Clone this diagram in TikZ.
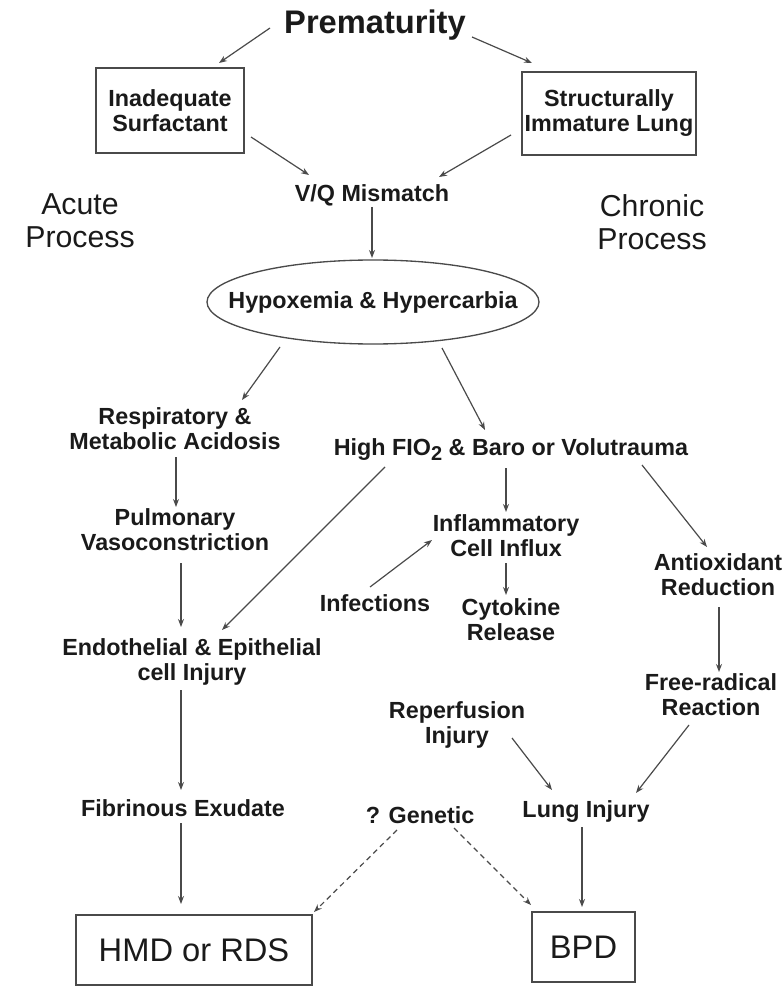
\documentclass[tikz,border=0pt]{standalone}
\usepackage{fontspec}
\setmainfont{Liberation Sans}
\usetikzlibrary{arrows.meta,calc}
\definecolor{flowline}{HTML}{4A4A4A}
\definecolor{flowtext}{HTML}{1A1A1A}

\begin{document}
\begin{tikzpicture}[x=0.75pt,y=-0.75pt,
  lbl/.style={text=flowtext,align=center,inner sep=1pt,font=\bfseries\fontsize{17.5}{18.75}\selectfont},
  bigl/.style={text=flowtext,align=center,inner sep=1pt,font=\fontsize{22.7}{24.75}\selectfont},
  boxl/.style={lbl,draw=flowline,line width=1pt},
  outbox/.style={draw=flowline,line width=1pt,text=flowtext,font=\fontsize{24.5}{26}\selectfont,minimum height=52.5pt},
  arr/.style={draw=flowline,line width=0.9pt,-{Stealth[length=6pt,width=4.5pt]}},
  darr/.style={arr,dash pattern=on 4pt off 3pt}]
\useasboundingbox (0,0) rectangle (782,987);
% top of the chart
\node[lbl,font=\bfseries\fontsize{24.5}{26}\selectfont] (prem) at (375,25) {Prematurity};
\node[boxl,minimum width=111pt,minimum height=63.75pt] (inad) at (170,110.5) {Inadequate\\Surfactant};
\node[boxl,minimum width=130.5pt,minimum height=62.25pt] (struct) at (609,113.5) {Structurally\\Immature Lung};
\node[lbl] (vq) at (372,195) {V/Q Mismatch};
\node[bigl] (acute) at (80,221) {Acute\\Process};
\node[bigl] (chronic) at (652,222) {Chronic\\Process};
\node[lbl] (hyp) at (373,302) {Hypoxemia \& Hypercarbia};
\draw[flowline,line width=1pt] (hyp) ellipse [x radius=124.5pt,y radius=31.5pt];
% middle
\node[lbl] (resp) at (175,429) {Respiratory \&\\Metabolic Acidosis};
\node[lbl] (high) at (511,450) {High FIO\raisebox{-0.35ex}{\fontsize{15}{15}\selectfont 2} \& Baro or Volutrauma};
\node[lbl] (pulm) at (175,530) {Pulmonary\\Vasoconstriction};
\node[lbl] (infl) at (506,536) {Inflammatory\\Cell Influx};
\node[lbl] (anti) at (718,575) {Antioxidant\\Reduction};
\node[lbl] (inf) at (375,603) {Infections};
\node[lbl] (cyto) at (511,620) {Cytokine\\Release};
\node[lbl] (endo) at (192,662) {Endothelial \& Epithelial\\cell Injury};
\node[lbl] (free) at (711,695) {Free-radical\\Reaction};
\node[lbl] (rep) at (457,725) {Reperfusion\\Injury};
% bottom
\node[lbl] (fib) at (183,808) {Fibrinous Exudate};
\node[lbl] (gen) at (420,815) {? Genetic};
\node[lbl] (lung) at (586,812) {Lung Injury};
\node[outbox,minimum width=177pt] (hmd) at (194,950) {HMD or RDS};
\node[outbox,minimum width=77.25pt] (bpd) at (583.5,947) {BPD};
% arrows
\draw[arr] ($(prem)+(-105,3)$) -- ($(inad)+(49,-47.5)$);
\draw[arr] ($(prem)+(97,12)$) -- ($(struct)+(-77,-50.5)$);
\draw[arr] ($(inad)+(81,26.5)$) -- ($(vq)+(-63,-20)$);
\draw[arr] ($(struct)+(-98,21.5)$) -- ($(vq)+(67,-18)$);
\draw[arr] ($(vq)+(0,12)$) -- ($(hyp)+(-1,-44)$);
\draw[arr] ($(hyp)+(-93,45)$) -- ($(resp)+(67,-29)$);
\draw[arr] ($(hyp)+(69,46)$) -- ($(high)+(-26,-20)$);
\draw[arr] ($(resp)+(1,28)$) -- ($(pulm)+(1,-23)$);
\draw[arr] ($(pulm)+(6,33)$) -- ($(endo)+(-11,-35)$);
\draw[arr] ($(high)+(-126,17)$) -- ($(endo)+(30,-32)$);
\draw[arr] ($(high)+(-5,18)$) -- ($(infl)+(0,-24)$);
\draw[arr] ($(high)+(131,15)$) -- ($(anti)+(-11,-28)$);
\draw[arr] ($(inf)+(-5,-16)$) -- ($(infl)+(-74,4)$);
\draw[arr] ($(infl)+(0,27)$) -- ($(cyto)+(-5,-25)$);
\draw[arr] ($(anti)+(1,32)$) -- ($(free)+(8,-23)$);
\draw[arr] ($(endo)+(-11,28)$) -- ($(fib)+(-2,-18)$);
\draw[arr] ($(fib)+(-2,15)$) -- ($(hmd)+(-13,-46)$);
\draw[arr] ($(rep)+(55,13)$) -- ($(lung)+(-34,-22)$);
\draw[arr] ($(free)+(-22,30)$) -- ($(lung)+(50,-19)$);
\draw[darr] ($(gen)+(-23,15)$) -- ($(hmd)+(120,-38)$);
\draw[darr] ($(gen)+(34,13)$) -- ($(bpd)+(-52.5,-42)$);
\draw[arr] ($(lung)+(-4,15)$) -- ($(bpd)+(-1.5,-40)$);
\end{tikzpicture}
\end{document}
